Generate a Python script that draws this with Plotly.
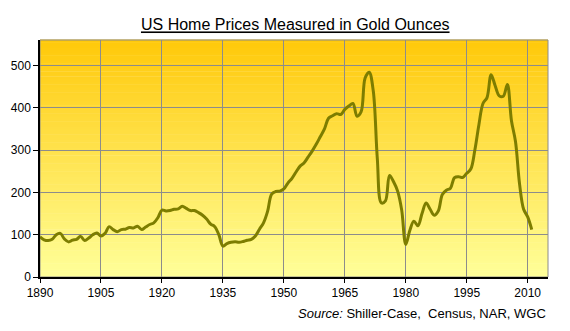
import plotly.graph_objects as go

# US home prices expressed in ounces of gold, annual
years = list(range(1890, 2012))
ounces = [
    95, 88, 86, 89, 100, 103, 90, 83, 87, 89,          # 1890s
    96, 86, 92, 100, 104, 97, 103, 119, 112, 107,      # 1900s
    112, 113, 117, 116, 120, 112, 118, 124, 128, 140,  # 1910s
    158, 156, 157, 160, 161, 167, 162, 157, 157, 152,  # 1920s
    146, 137, 125, 119, 100, 73, 79, 82, 83, 82,       # 1930s
    84, 87, 89, 97, 113, 128, 155, 196, 202, 203,      # 1940s
    208, 222, 233, 248, 262, 270, 284, 298, 314, 332,  # 1950s
    350, 375, 381, 386, 384, 396, 404, 410, 380, 390,  # 1960s
    470, 484, 440, 280, 175, 180, 240, 225, 203, 158,  # 1970s
    77, 110, 132, 121, 150, 175, 160, 146, 156, 195,   # 1980s
    205, 210, 235, 237, 235, 245, 255, 300, 360, 410,  # 1990s
    424, 478, 452, 428, 427, 455, 370, 320, 220, 160,  # 2000s
    142, 112,                                          # 2010s
]

x_ticks = list(range(1890, 2011, 15))
y_ticks = list(range(0, 501, 100))

# vertical gold gradient behind the plot area
top_rgb = (255, 201, 10)
bottom_rgb = (255, 255, 153)
n_bands = 90
shapes = []
for i in range(n_bands):
    t = i / (n_bands - 1)
    r = round(bottom_rgb[0] + (top_rgb[0] - bottom_rgb[0]) * t)
    g = round(bottom_rgb[1] + (top_rgb[1] - bottom_rgb[1]) * t)
    b = round(bottom_rgb[2] + (top_rgb[2] - bottom_rgb[2]) * t)
    shapes.append(dict(
        type="rect", xref="paper", yref="paper",
        x0=0, x1=1, y0=i / n_bands, y1=(i + 1) / n_bands + 0.002,
        fillcolor=f"rgb({r},{g},{b})", line=dict(width=0), layer="below",
    ))
# grey frame on top and right
shapes.append(dict(type="rect", xref="paper", yref="paper", x0=0, x1=1, y0=0, y1=1,
                   line=dict(color="#8c8c8c", width=1), layer="below"))

fig = go.Figure()
fig.add_trace(go.Scatter(
    x=years, y=ounces, mode="lines",
    line=dict(color="#7d7d00", width=3, shape="spline", smoothing=1.0),
    hoverinfo="x+y",
))

fig.update_layout(
    width=570, height=331,
    margin=dict(l=40, r=22, t=40, b=54),
    paper_bgcolor="white", plot_bgcolor="rgba(0,0,0,0)",
    showlegend=False,
    font=dict(family="Liberation Sans, Arial, sans-serif", color="black", size=12),
    title=dict(
        text="<u>US Home Prices Measured in Gold Ounces</u>",
        x=0.518, xanchor="center", y=0.925, yanchor="middle",
        font=dict(size=16, color="black"),
    ),
    shapes=shapes,
    annotations=[dict(
        text="<i>Source:</i> Shiller-Case,  Census, NAR, WGC",
        xref="paper", yref="paper", x=1.0, y=-0.115,
        xanchor="right", yanchor="top", showarrow=False,
        font=dict(size=13, color="black"),
    )],
)
fig.update_xaxes(
    range=[1890, 2015], tickvals=x_ticks, ticktext=[str(v) for v in x_ticks],
    showgrid=True, gridcolor="#8c8c8c", gridwidth=1,
    showline=True, linecolor="black", linewidth=1.5,
    ticks="outside", ticklen=4, tickcolor="black", zeroline=False,
)
fig.update_yaxes(
    range=[0, 560], tickvals=y_ticks,
    showgrid=True, gridcolor="#8c8c8c", gridwidth=1,
    showline=True, linecolor="black", linewidth=1.5,
    ticks="outside", ticklen=5, tickcolor="black", zeroline=False,
)

fig.write_html("out.html")
